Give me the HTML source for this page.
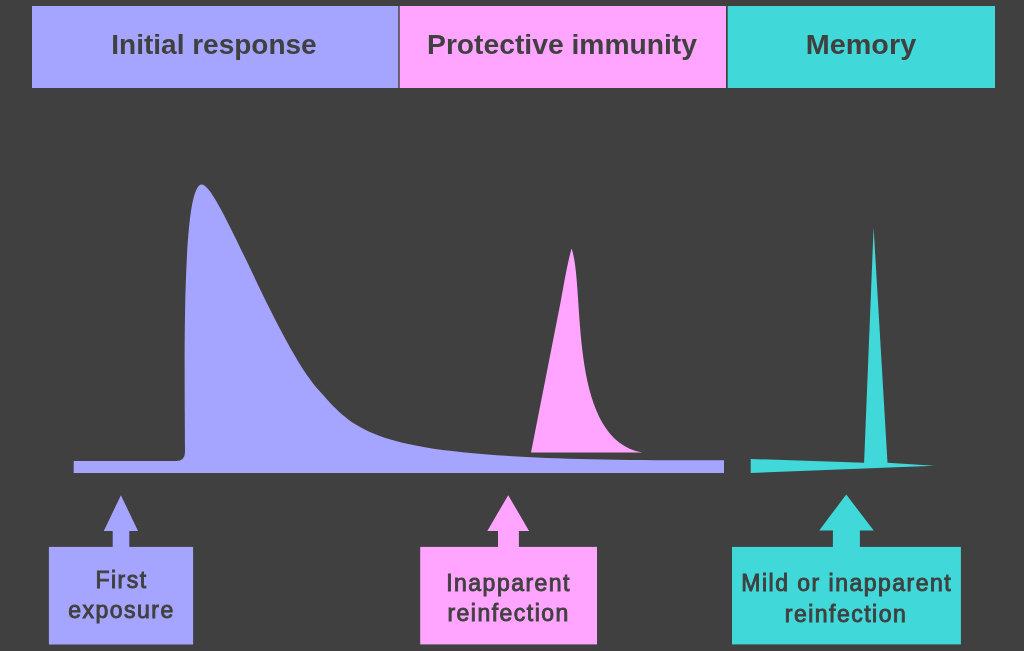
<!DOCTYPE html>
<html><head><meta charset="utf-8"><style>
html,body{margin:0;padding:0;background:#404040;width:1024px;height:651px;overflow:hidden}
svg{display:block;will-change:transform}
text{font-family:"Liberation Sans",sans-serif;fill:#404040}
.t{font-weight:bold}
.s text{font-size:23px;stroke:#404040;stroke-width:0.9px;letter-spacing:1.48px}
</style></head><body>
<svg width="1024" height="651" viewBox="0 0 1024 651">
<rect x="0" y="0" width="1024" height="651" fill="#404040"/>
<rect x="32" y="6" width="366.3" height="82" fill="#a5a5ff"/>
<rect x="399.7" y="6" width="326.3" height="82" fill="#ffa5ff"/>
<rect x="727.7" y="6" width="267.3" height="82" fill="#40d8d8"/>
<text class="t" x="214" y="54.2" font-size="28" text-anchor="middle">Initial response</text>
<text class="t" x="562" y="54.2" font-size="28" text-anchor="middle" transform="translate(562 0) scale(1.009 1) translate(-562 0)">Protective immunity</text>
<text class="t" x="861" y="54.2" font-size="28" text-anchor="middle" transform="translate(861 0) scale(1.028 1) translate(-861 0)">Memory</text>
<path d="M73.7 461 L176 461 Q185 461 185 452 C185 386.5 180.7 184.5 201.7 184.5 C219 184.5 275.4 341.3 318.8 390.3 C362.9 440 380.4 461.2 724 460.2 L724 473 L73.7 473 Z" fill="#a5a5ff"/>
<path d="M531 452.6 L561 300 C563.6 286 568 260 571.6 248.5 C585.5 289.1 566.7 439.1 642.5 452.6 Z" fill="#ffa5ff"/>
<path d="M750.7 459 L864.1 462.7 L873.6 227.5 L887.5 462.7 L934.5 465.7 L750.7 472.9 Z" fill="#40d8d8"/>
<path d="M120.9 495.2 L138 530.9 L129.3 530.9 L129.3 547 L112.7 547 L112.7 530.9 L103.8 530.9 Z" fill="#a5a5ff"/>
<path d="M508.2 495.2 L529.1 530.9 L518.9 530.9 L518.9 547 L498 547 L498 530.9 L487.3 530.9 Z" fill="#ffa5ff"/>
<path d="M846.2 494.4 L873.7 530.6 L859.9 530.6 L859.9 547.5 L832.9 547.5 L832.9 530.6 L819.2 530.6 Z" fill="#40d8d8"/>
<rect x="48.9" y="546.9" width="144.2" height="97.6" fill="#a5a5ff"/>
<rect x="420.2" y="546.9" width="176.8" height="97.5" fill="#ffa5ff"/>
<rect x="732" y="546.9" width="228.9" height="97.5" fill="#40d8d8"/>
<g class="s">
<text x="121.5" y="588.3" text-anchor="middle">First</text><text x="121.5" y="618.1" text-anchor="middle">exposure</text>
<text x="508.6" y="591.4" text-anchor="middle">Inapparent</text><text x="508.6" y="621.2" text-anchor="middle">reinfection</text>
<text x="846.7" y="591.2" text-anchor="middle">Mild or inapparent</text><text x="846" y="621.9" text-anchor="middle">reinfection</text>
</g>
</svg>
</body></html>
